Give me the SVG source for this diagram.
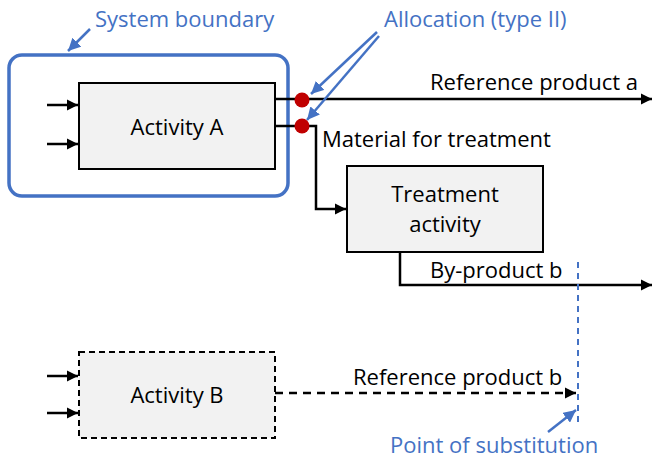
<svg xmlns="http://www.w3.org/2000/svg" width="653" height="463" viewBox="0 0 653 463">
<defs>
<marker id="ah" viewBox="0 0 10 10" refX="10" refY="5" markerWidth="4.5" markerHeight="4.5" orient="auto" markerUnits="strokeWidth"><path d="M0,0 L10,5 L0,10 z" fill="#000"/></marker>
<marker id="ahb" viewBox="0 0 10 10" refX="10" refY="5" markerWidth="5" markerHeight="5" orient="auto" markerUnits="strokeWidth"><path d="M0,0 L10,5 L0,10 z" fill="#4472C4"/></marker>
</defs>
<style>
text{font-family:"Open Sans","Liberation Sans",sans-serif;font-size:22px;fill:#000}
.blue{fill:#4472C4}
.box{fill:#F2F2F2;stroke:#000;stroke-width:2}
.ln{fill:none;stroke:#000;stroke-width:2.5}
.bl{fill:none;stroke:#4472C4;stroke-width:2.5}
</style>
<rect width="653" height="463" fill="#fff"/>
<g id="system-boundary">
<rect x="9" y="55" width="279" height="141" rx="13" fill="none" stroke="#4472C4" stroke-width="3.5"/>
<text class="blue" x="95" y="27">System boundary</text>
</g>
<g id="activity-a">
<rect class="box" x="79" y="83" width="196" height="86"/>
<text x="177" y="135" text-anchor="middle">Activity A</text>
</g>
<g id="treatment">
<rect class="box" x="347" y="166" width="196" height="86"/>
<text x="445" y="202" text-anchor="middle">Treatment</text>
<text x="445" y="232" text-anchor="middle">activity</text>
</g>
<g id="activity-b">
<rect class="box" x="79" y="352" width="196" height="86" stroke-dasharray="6,4"/>
<text x="177" y="403" text-anchor="middle">Activity B</text>
</g>
<g id="connectors">
<line class="ln" x1="47" y1="105" x2="78" y2="105" marker-end="url(#ah)"/>
<line class="ln" x1="47" y1="144" x2="78" y2="144" marker-end="url(#ah)"/>
<line class="ln" x1="275" y1="99" x2="652" y2="99" marker-end="url(#ah)"/>
<polyline class="ln" points="275,126 316,126 316,209 346,209" marker-end="url(#ah)"/>
<polyline class="ln" points="400,252 400,285 652,285" marker-end="url(#ah)"/>
<line class="ln" x1="47" y1="376" x2="78" y2="376" marker-end="url(#ah)"/>
<line class="ln" x1="47" y1="413" x2="78" y2="413" marker-end="url(#ah)"/>
<line class="ln" x1="275" y1="393" x2="576" y2="393" stroke-dasharray="8,6" marker-end="url(#ah)"/>
<line x1="578" y1="262" x2="578" y2="422" stroke="#4472C4" stroke-width="2" stroke-dasharray="6,5"/>
<line class="bl" x1="90" y1="29" x2="68" y2="51" marker-end="url(#ahb)"/>
<line class="bl" x1="377" y1="32" x2="311" y2="94" marker-end="url(#ahb)"/>
<line class="bl" x1="379" y1="36" x2="307" y2="120" marker-end="url(#ahb)"/>
<line class="bl" x1="548" y1="432" x2="576" y2="410" marker-end="url(#ahb)"/>
<circle cx="302" cy="100" r="7.5" fill="#C00000"/>
<circle cx="302" cy="126" r="7.5" fill="#C00000"/>
</g>
<g id="labels">
<text class="blue" x="384" y="27">Allocation (type II)</text>
<text x="430" y="90">Reference product a</text>
<text x="322" y="147">Material for treatment</text>
<text x="430" y="278">By-product b</text>
<text x="353" y="385">Reference product b</text>
<text class="blue" x="390" y="453">Point of substitution</text>
</g>
</svg>
